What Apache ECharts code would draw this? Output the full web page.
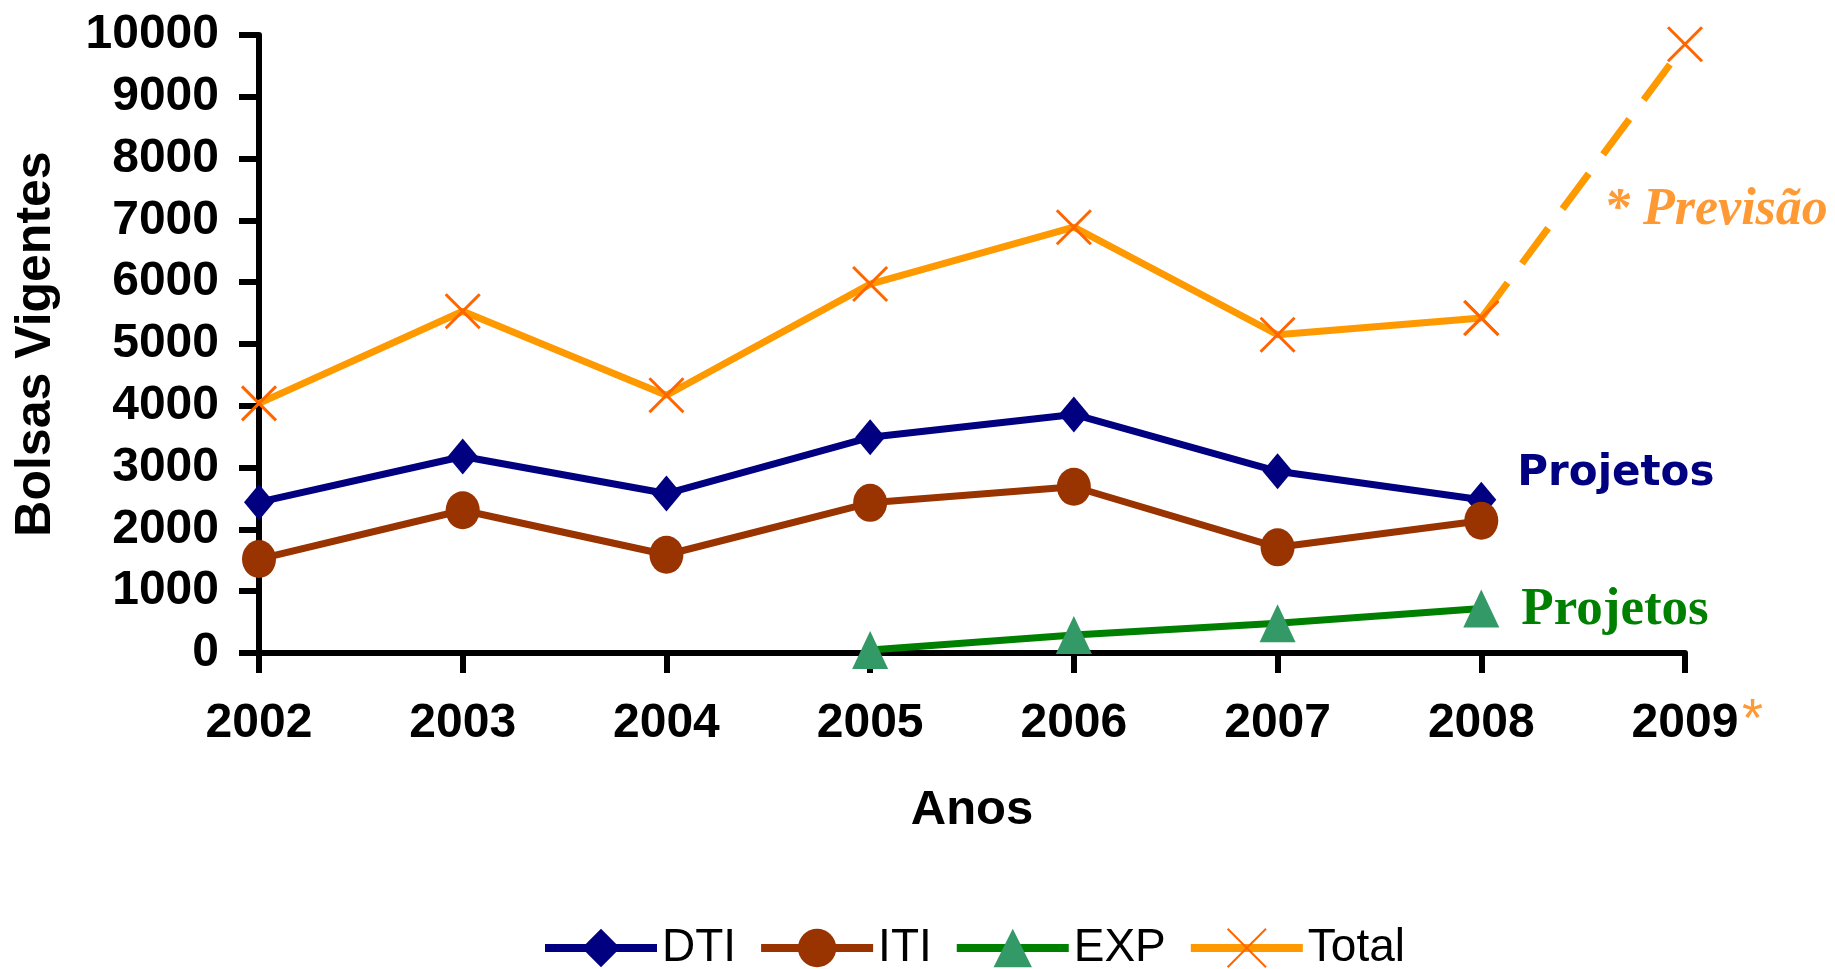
<!DOCTYPE html>
<html>
<head>
<meta charset="utf-8">
<title>Bolsas Vigentes</title>
<script src="https://cdn.jsdelivr.net/npm/echarts@6/dist/echarts.min.js"></script>
<style>
  html, body { margin: 0; padding: 0; background: #fff; }
  #main { width: 1835px; height: 969px; }
</style>
</head>
<body>
<div id="main"></div>
<script>
// dados
var anos = ['2002', '2003', '2004', '2005', '2006', '2007', '2008', '2009'];
var dti = [2440, 3180, 2580, 3490, 3860, 2940, 2480];
var iti = [1520, 2310, 1590, 2430, 2690, 1710, 2140];
var exp = ['-', '-', '-', 50, 290, 480, 720];
var total = [4040, 5530, 4170, 5970, 6890, 5150, 5420, 9850];
var ultimoReal = 6; // 2008, depois é previsão

var yTicks = { min: 0, max: 10000, interval: 1000 };

var totalReal = total.map(function(v, i) { return i <= ultimoReal ? v : '-'; });
var totalPrev = total.map(function(v, i) { return i >= ultimoReal ? v : '-'; });

var xSymbol = 'path://M0,0L10,10M10,0L0,10';
var fonteEixo = 'Liberation Sans, Arial, sans-serif';

var myChart = echarts.init(document.getElementById('main'));

var option = {
  animation: false,
  backgroundColor: '#fff',
  grid: {
    left: 259,
    right: 150,
    top: 35,
    bottom: 316
  },
  legend: {
    left: 536,
    top: 920,
    itemWidth: 112,
    itemHeight: 48,
    itemGap: 21,
    lineStyle: { width: 8 },
    textStyle: {
      fontFamily: fonteEixo,
      fontSize: 46,
      color: '#000'
    },
    data: ['DTI', 'ITI', 'EXP', 'Total']
  },
  xAxis: {
    type: 'category',
    data: anos,
    boundaryGap: false,
    name: 'Anos',
    nameLocation: 'middle',
    nameGap: 133,
    nameTextStyle: {
      fontFamily: fonteEixo,
      fontWeight: 'bold',
      fontSize: 49,
      color: '#000'
    },
    axisLine: { lineStyle: { color: '#000', width: 6 } },
    axisTick: { length: 20, lineStyle: { color: '#000', width: 6 } },
    axisLabel: {
      margin: 47,
      fontFamily: fonteEixo,
      fontWeight: 'bold',
      fontSize: 48,
      color: '#000'
    },
    splitLine: { show: false }
  },
  yAxis: {
    type: 'value',
    min: yTicks.min,
    max: yTicks.max,
    interval: yTicks.interval,
    name: 'Bolsas Vigentes',
    nameLocation: 'middle',
    nameGap: 198,
    nameRotate: 90,
    nameTextStyle: {
      fontFamily: fonteEixo,
      fontWeight: 'bold',
      fontSize: 50,
      color: '#000'
    },
    axisLine: { show: true, lineStyle: { color: '#000', width: 6 } },
    axisTick: { show: true, length: 20, lineStyle: { color: '#000', width: 6 } },
    axisLabel: {
      margin: 40,
      fontFamily: fonteEixo,
      fontWeight: 'bold',
      fontSize: 48,
      color: '#000',
      formatter: function(v) { return String(v); }
    },
    splitLine: { show: false }
  },
  series: [
    {
      name: 'Total',
      type: 'line',
      data: totalReal,
      symbol: xSymbol,
      symbolSize: 34,
      lineStyle: { color: '#FF9900', width: 7 },
      itemStyle: { color: '#FF6600', borderColor: '#FF6600', borderWidth: 3 },
      z: 2
    },
    {
      name: 'Total previsão',
      type: 'line',
      data: totalPrev,
      symbol: xSymbol,
      symbolSize: 34,
      lineStyle: { color: '#FF9900', width: 7, type: [44, 24] },
      itemStyle: { color: '#FF6600', borderColor: '#FF6600', borderWidth: 3 },
      z: 2
    },
    {
      name: 'DTI',
      type: 'line',
      data: dti,
      symbol: 'diamond',
      symbolSize: [30, 36],
      lineStyle: { color: '#000080', width: 7 },
      itemStyle: { color: '#000080' },
      endLabel: {
        show: true,
        formatter: 'Projetos',
        distance: 36,
        offset: [0, -26],
        fontFamily: 'DejaVu Sans, Verdana, sans-serif',
        fontWeight: 'bold',
        fontSize: 42,
        color: '#000080'
      },
      z: 3
    },
    {
      name: 'ITI',
      type: 'line',
      data: iti,
      symbol: 'circle',
      symbolSize: [34, 38],
      lineStyle: { color: '#993300', width: 7 },
      itemStyle: { color: '#993300' },
      z: 4
    },
    {
      name: 'EXP',
      type: 'line',
      data: exp,
      symbol: 'triangle',
      symbolSize: [36, 38],
      lineStyle: { color: '#008000', width: 7 },
      itemStyle: { color: '#339966' },
      endLabel: {
        show: true,
        formatter: 'Projetos',
        distance: 40,
        offset: [0, 2],
        fontFamily: 'Liberation Serif, Times New Roman, serif',
        fontWeight: 'bold',
        fontSize: 53,
        color: '#008000'
      },
      z: 5
    }
  ],
  graphic: [
    {
      type: 'text',
      left: 1604,
      top: 185,
      style: {
        text: '* Previsão',
        font: 'italic bold 52px "Liberation Serif", "Times New Roman", serif',
        fill: '#FF9933'
      }
    },
    {
      type: 'text',
      left: 1742,
      top: 694,
      style: {
        text: '*',
        font: '54px "Liberation Sans", Arial, sans-serif',
        fill: '#FF9933'
      }
    }
  ]
};

myChart.setOption(option);
</script>
</body>
</html>
